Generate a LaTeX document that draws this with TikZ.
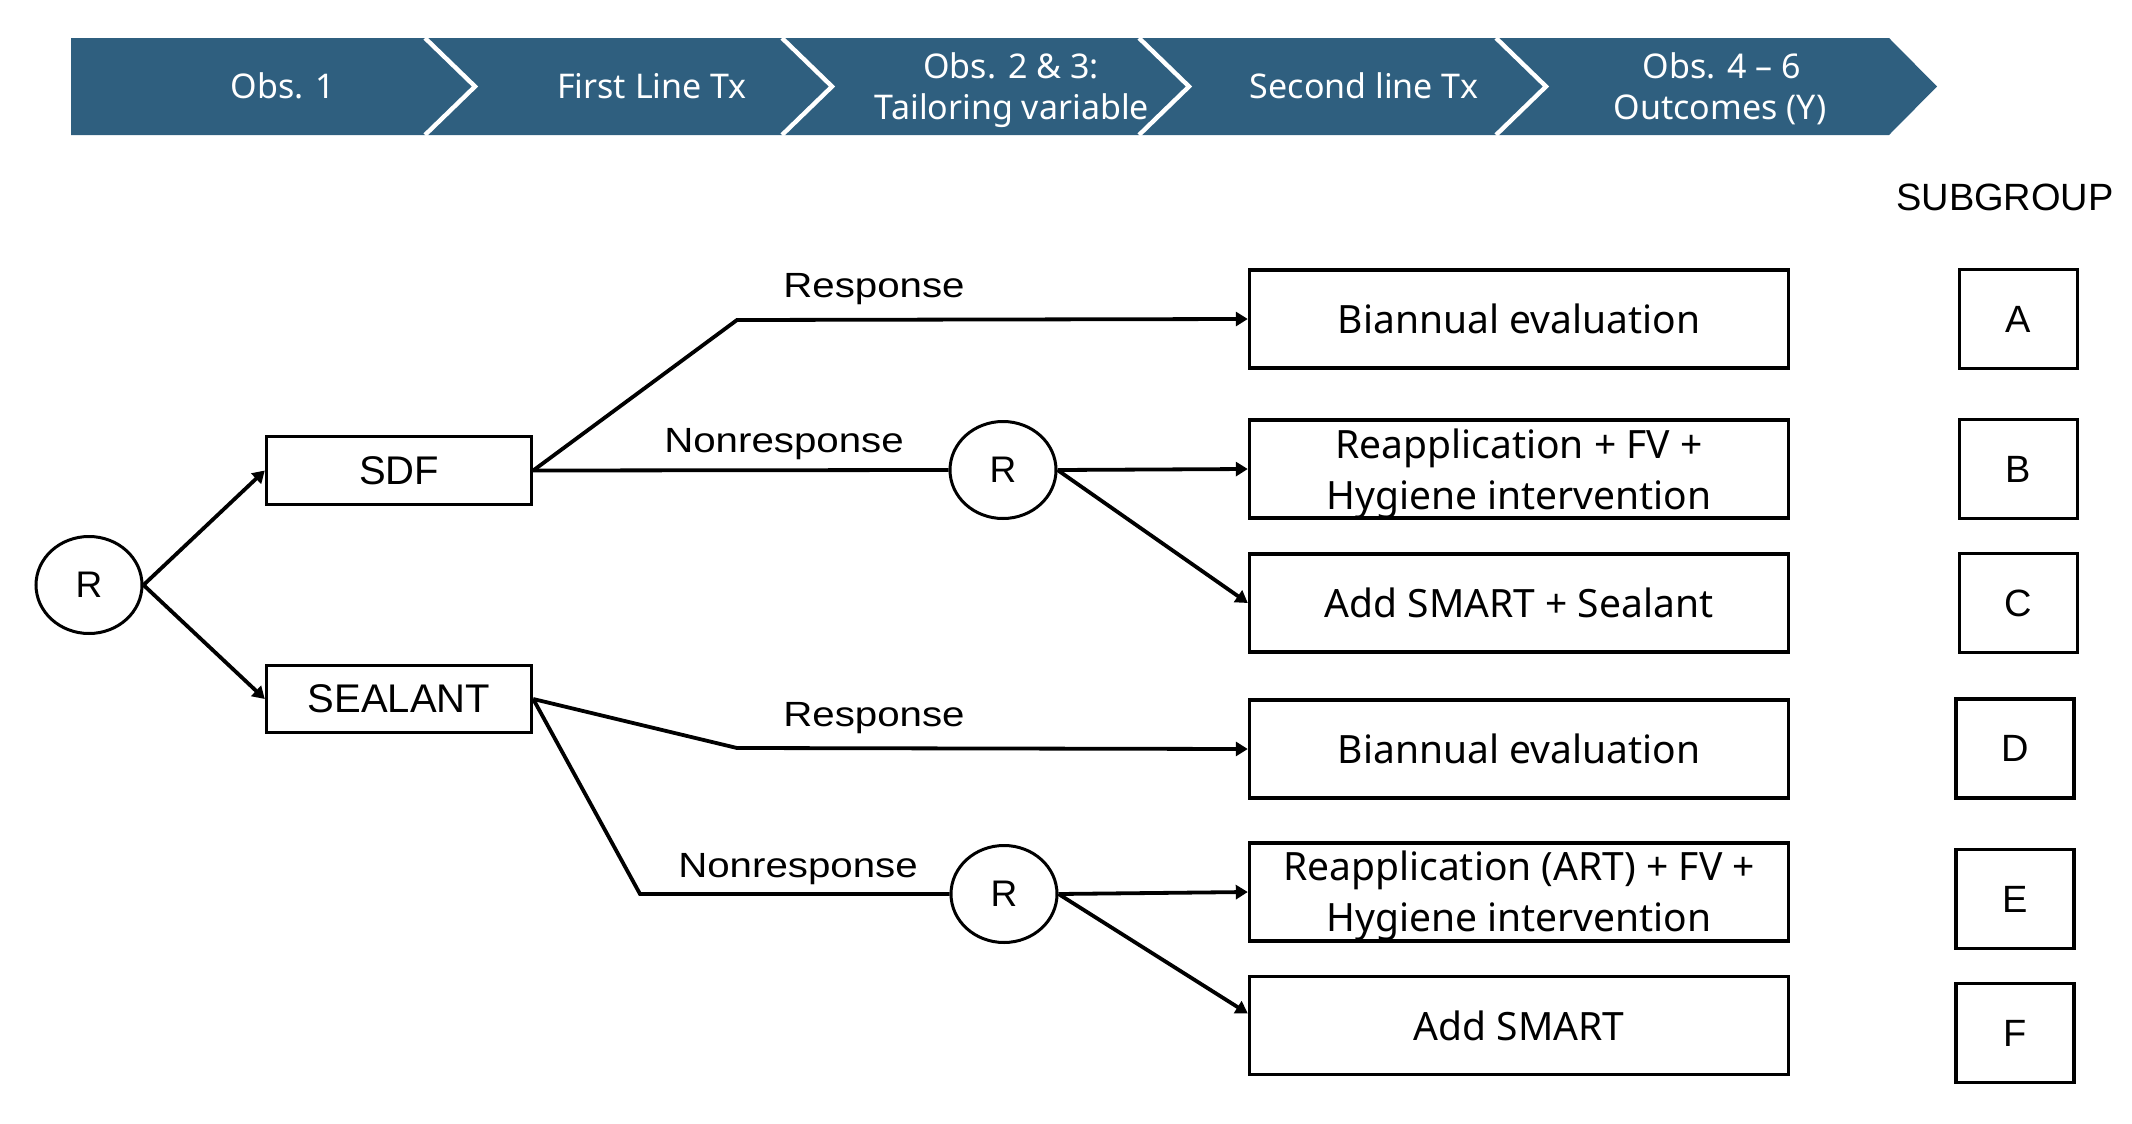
\documentclass[tikz,border=0pt]{standalone}
\usepackage{fontspec}
\usetikzlibrary{shapes.geometric,arrows.meta}
\newfontfamily\notofont{Noto Sans}
\newfontfamily\labfont[FakeStretch=1.15]{Liberation Sans}
\newfontfamily\helvfont{Liberation Sans}
\definecolor{bannerblue}{RGB}{47,95,127}
\tikzset{
  ln/.style={line width=1.9pt, line join=miter},
  arr/.style={ln, -{Triangle[length=6pt,width=7pt]}},
  lbox/.style={draw, line width=1.7pt, minimum width=132.5pt, minimum height=34pt, inner sep=0pt, font=\helvfont\fontsize{20}{24}\selectfont},
  rbox/.style={draw, line width=1.7pt, minimum width=269.5pt, minimum height=49pt, inner sep=0pt, align=center, font=\notofont\fontsize{19.5}{25.5}\selectfont},
  rtext/.style={inner sep=0pt, align=center, font=\notofont\fontsize{19.5}{25.5}\selectfont},
  sbox/.style={draw, line width=1.7pt, minimum width=59pt, minimum height=49.5pt, inner sep=0pt, font=\helvfont\fontsize{19}{23}\selectfont},
  rnode/.style={ellipse, draw, line width=1.5pt, minimum width=53pt, minimum height=48.5pt, inner sep=0pt, font=\helvfont\fontsize{18.5}{22}\selectfont},
  lab/.style={anchor=base, inner sep=0pt, font=\labfont\fontsize{17.5}{21}\selectfont},
  btxt/.style={anchor=base, inner sep=0pt, text=white, font=\notofont\fontsize{17}{20}\selectfont},
}
\begin{document}
\begin{tikzpicture}[x=0.5pt,y=-0.5pt]
\useasboundingbox (0,0) rectangle (2132,1124);
% banner
\fill[bannerblue] (71,38) -- (1889,38) -- (1937,86.5) -- (1889,135) -- (71,135) -- cycle;
\foreach \x in {425,782,1139,1496}
  \draw[white, line width=2.2pt] (\x,38) -- (\x+50,86.5) -- (\x,135);
\node[btxt] (b1) at (283,98) {Obs. 1};
\node[btxt] (b2) at (652,98) {First Line Tx};
\node[btxt] (b3a) at (1011,78) {Obs. 2 \& 3:};
\node[btxt] (b3b) at (1012,119) {Tailoring variable};
\node[btxt] (b4) at (1364,98) {Second line Tx};
\node[btxt] (b5a) at (1722,78) {Obs. 4 – 6};
\node[btxt] (b5b) at (1720,119) {Outcomes (Y)};
% subgroup header
\node[anchor=base, inner sep=0pt, font=\helvfont\fontsize{19}{23}\selectfont] (sg) at (2005,210) {SUBGROUP};
% nodes
\node[rnode] (r0) at (89,585) {R};
\node[lbox] (sdf) at (399,470.5) {SDF};
\node[lbox, minimum height=33.5pt] (sea) at (399,699) {SEALANT};
\node[rnode] (r1) at (1003,470) {R};
\node[rnode] (r2) at (1004,894) {R};
\node[rbox] (bia1) at (1519,319) {Biannual evaluation};
\node[rbox] (reap1) at (1519,469) {};
\node[rtext] (reap1t) at (1519,474) {Reapplication + FV +\\Hygiene intervention};
\node[rbox] (smse) at (1519,603) {Add SMART + Sealant};
\node[rbox] (bia2) at (1519,749) {Biannual evaluation};
\node[rbox] (reap2) at (1519,892) {};
\node[rtext] (reap2t) at (1519,896) {Reapplication (ART) + FV +\\Hygiene intervention};
\node[rbox] (smart) at (1519,1025.5) {Add SMART};
\node[sbox] (sA) at (2018.5,319) {A};
\node[sbox] (sB) at (2018.5,469) {B};
\node[sbox] (sC) at (2018.5,603) {C};
\node[sbox] (sD) at (2015,748.5) {D};
\node[sbox] (sE) at (2015,899) {E};
\node[sbox] (sF) at (2015,1033) {F};
% labels
\node[lab] (l1) at (874,297) {Response};
\node[lab] (l2) at (784,452) {Nonresponse};
\node[lab] (l3) at (874,726) {Response};
\node[lab] (l4) at (798,877) {Nonresponse};
% bend points
\coordinate (k1) at (737,320);
\coordinate (k2) at (737,748);
\coordinate (k3) at (640,894);
% connectors
\draw[arr] (r0.east) -- (sdf.west);
\draw[arr] (r0.east) -- (sea.west);
\draw[arr] (sdf.east) -- (k1) -- (bia1.west);
\draw[ln] (sdf.east) -- (r1.west);
\draw[arr] (r1.east) -- (reap1.west);
\draw[arr] (r1.east) -- (smse.west);
\draw[arr] (sea.east) -- (k2) -- (bia2.west);
\draw[ln] (sea.east) -- (k3) -- (r2.west);
\draw[arr] (r2.east) -- (reap2.west);
\draw[arr] (r2.east) -- ([yshift=6pt]smart.west);
\end{tikzpicture}
\end{document}
